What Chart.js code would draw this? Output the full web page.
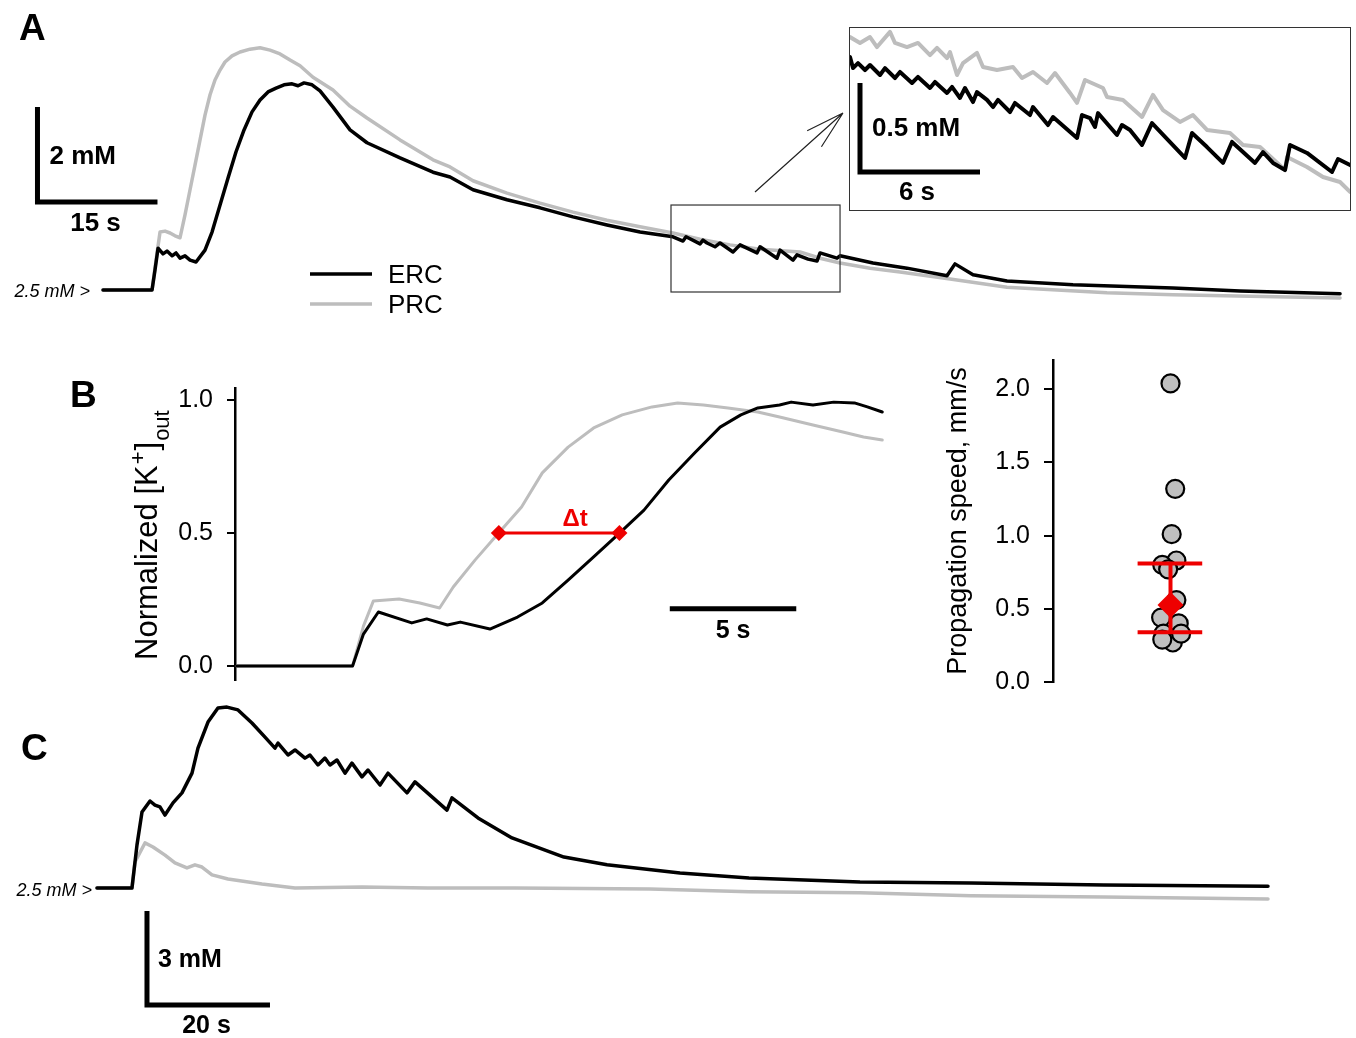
<!DOCTYPE html>
<html>
<head>
<meta charset="utf-8">
<script src="https://cdn.jsdelivr.net/npm/chart.js@4.4.1/dist/chart.umd.min.js"></script>
<style>
html, body { margin: 0; padding: 0; background: #fff; }
#fig { position: relative; width: 1356px; height: 1038px; overflow: hidden; background: #fff; }
.panel { position: absolute; }
#insetBox { border: 1px solid #333; background: #fff; }
</style>
</head>
<body>
<div id="fig">
  <div class="panel" style="left:0;top:0;width:1356px;height:330px"><canvas id="chartA"></canvas></div>
  <div class="panel" id="insetBox" style="left:849px;top:27px;width:500px;height:182px"><canvas id="chartInset"></canvas></div>
  <div class="panel" style="left:0;top:360px;width:910px;height:340px"><canvas id="chartB"></canvas></div>
  <div class="panel" style="left:938px;top:330px;width:363px;height:370px"><canvas id="chartSpeed"></canvas></div>
  <div class="panel" style="left:0;top:690px;width:1356px;height:348px"><canvas id="chartC"></canvas></div>
</div>
<script>
// ---- data: [time s, value] ----
// panel A, [K+]out in mM
const aERC = [[0,2.5],[2.13,2.5],[4.63,2.5],[6.13,2.5],[6.5,2.92],[6.88,3.38],[7.5,3.26],[8,3.32],[8.63,3.22],[9.13,3.28],[9.63,3.17],[10.25,3.22],[10.88,3.13],[11.63,3.09],[12.75,3.34],[13.63,3.72],[14.63,4.29],[15.63,4.86],[16.63,5.41],[17.63,5.87],[18.63,6.25],[19.63,6.5],[20.63,6.67],[21.63,6.75],[22.63,6.82],[23.63,6.84],[24.38,6.8],[25.13,6.86],[26.13,6.82],[27.13,6.69],[28.75,6.35],[30.88,5.87],[33,5.6],[37.13,5.28],[41.25,4.98],[43.38,4.88],[46.25,4.61],[50.5,4.4],[54.63,4.23],[58.75,4.04],[63,3.87],[67.13,3.72],[71.25,3.62],[72.5,3.53],[72.88,3.62],[74.63,3.47],[75,3.55],[75.5,3.49],[76.5,3.41],[77.13,3.49],[78.75,3.3],[79.63,3.45],[81.75,3.28],[82.13,3.41],[84.25,3.17],[84.63,3.34],[86.25,3.13],[86.75,3.24],[88.13,3.15],[89.25,3.11],[89.63,3.28],[91.75,3.17],[92.13,3.22],[96.25,3.07],[100.5,2.96],[105.5,2.8],[106.5,3.05],[108.75,2.82],[113,2.69],[121.25,2.61],[133.75,2.54],[142.13,2.48],[154.63,2.42]];
const aPRC = [[0,2.5],[6.13,2.5],[6.63,3.13],[7.13,3.72],[7.75,3.74],[8.38,3.7],[9,3.64],[9.63,3.6],[10.25,4.08],[10.88,4.61],[11.5,5.13],[12.13,5.66],[12.75,6.18],[13.38,6.61],[14,6.92],[14.63,7.13],[15.25,7.3],[16.13,7.43],[17.13,7.51],[18.38,7.57],[19.63,7.6],[20.88,7.55],[22.13,7.47],[23.38,7.34],[24.63,7.22],[26.25,6.98],[28.75,6.71],[30.88,6.37],[33,6.12],[37.13,5.66],[41.25,5.24],[43.38,5.09],[46.25,4.8],[50.5,4.54],[54.63,4.33],[58.75,4.14],[63,3.97],[67.13,3.83],[71.25,3.7],[74.63,3.57],[78.38,3.45],[82.13,3.36],[87.13,3.3],[89.63,3.17],[92.13,3.07],[95.88,2.96],[99.63,2.88],[105.88,2.73],[113,2.56],[125.5,2.44],[133.75,2.4],[143.38,2.37],[154.63,2.33]];

// inset of panel A (zoomed window)
const insetERC = [[0,4.237],[0.15,4.175],[0.4,4.203],[0.75,4.164],[1,4.192],[1.5,4.136],[1.75,4.175],[2.25,4.119],[2.5,4.153],[3.1,4.091],[3.4,4.125],[4,4.063],[4.25,4.097],[4.85,4.035],[5.1,4.069],[5.5,4.007],[5.75,4.063],[6.15,3.984],[6.35,4.04],[6.85,3.996],[7.15,3.956],[7.4,3.996],[8,3.928],[8.25,3.979],[9,3.911],[9.15,3.956],[9.9,3.855],[10.15,3.9],[11.35,3.782],[11.6,3.911],[12,3.894],[12.25,3.844],[12.4,3.922],[13.35,3.799],[13.6,3.855],[14,3.827],[14.6,3.743],[15.1,3.866],[16.75,3.67],[17.1,3.81],[17.85,3.731],[18.65,3.642],[19.1,3.76],[19.65,3.703],[20.25,3.642],[20.65,3.703],[21.15,3.642],[21.75,3.602],[22,3.743],[22.85,3.698],[24.1,3.591],[24.4,3.664],[25,3.63]];
const insetPRC = [[0,4.349],[0.5,4.316],[1,4.349],[1.35,4.293],[2,4.378],[2.25,4.316],[2.85,4.293],[3.4,4.316],[4,4.248],[4.35,4.288],[4.85,4.231],[5,4.265],[5.35,4.136],[5.65,4.203],[6.35,4.26],[6.65,4.181],[7.35,4.164],[8.15,4.181],[8.6,4.119],[9.15,4.153],[9.85,4.091],[10.25,4.147],[11,4.035],[11.35,3.979],[11.75,4.108],[12.65,4.063],[12.85,4.012],[13.65,3.996],[14.6,3.9],[15.15,4.024],[15.65,3.939],[16.5,3.872],[17.15,3.911],[17.85,3.827],[19,3.81],[19.65,3.743],[20.5,3.731],[21.75,3.602],[21.85,3.675],[22.85,3.619],[23.65,3.563],[24.5,3.535],[25,3.479]];

// panel B, normalized [K+]out
const bERC = [[0,0],[2.46,0],[4.57,0],[5,0.12],[5.59,0.203],[6.91,0.162],[7.5,0.177],[8.32,0.154],[8.83,0.165],[10,0.139],[11.09,0.184],[12.07,0.237],[13.09,0.323],[14.1,0.41],[15.08,0.496],[16.09,0.586],[17.07,0.699],[18.09,0.801],[19.1,0.898],[19.92,0.944],[20.59,0.97],[21.45,0.981],[21.91,0.992],[22.77,0.981],[23.59,0.992],[24.41,0.989],[24.92,0.974],[25.51,0.955]];
const bPRC = [[0,0],[2.46,0],[4.57,0],[5,0.15],[5.39,0.244],[6.41,0.252],[7.23,0.237],[8.01,0.218],[8.55,0.297],[9.41,0.398],[10.31,0.496],[11.25,0.598],[12.07,0.726],[13.09,0.823],[14.1,0.895],[15.23,0.944],[16.41,0.974],[17.42,0.989],[18.44,0.981],[19.41,0.97],[20.59,0.955],[21.45,0.936],[22.77,0.906],[23.95,0.88],[24.77,0.861],[25.51,0.85]];
const deltaT = [[10.35,0.5],[15.12,0.5]];
const bTicks = [0, 0.5, 1];

// panel B right, propagation speed (mm/s); x = jitter around 1
const speedX = [1.0, 1.04, 1.01, 1.05, 0.93, 0.98, 1.05, 0.92, 1.07, 0.94, 1.02, 0.93, 1.09];
const speedY = [2.04, 1.32, 1.01, 0.83, 0.80, 0.77, 0.56, 0.44, 0.40, 0.33, 0.27, 0.29, 0.33];
const speedMean = 0.526;
const speedSD = [0.34, 0.81];
const speedTicks = [0, 0.5, 1, 1.5, 2];

// panel C, [K+]out in mM
const cERC = [[0,2.5],[5.69,2.5],[6.5,3.87],[7.32,4.93],[8.62,5.28],[9.43,5.15],[10.24,5.09],[11.06,4.83],[12.36,5.22],[13.82,5.54],[15.45,6.17],[16.42,6.97],[18.05,7.8],[19.67,8.25],[21.14,8.28],[22.93,8.19],[25.2,7.77],[27.32,7.32],[28.94,6.97],[29.43,7.13],[31.06,6.75],[32.2,6.91],[33.82,6.65],[34.63,6.75],[35.93,6.43],[37.07,6.65],[37.89,6.43],[39.02,6.59],[40.33,6.17],[41.46,6.49],[43.09,6.05],[44.07,6.27],[46.02,5.79],[47.32,6.17],[50.41,5.54],[51.71,5.89],[56.91,4.99],[57.72,5.38],[61.95,4.74],[67.48,4.1],[75.93,3.49],[82.93,3.24],[94.8,2.98],[106.02,2.82],[124.07,2.69],[142.11,2.66],[163.74,2.6],[190.41,2.56]];
const cPRC = [[0,2.5],[5.69,2.5],[6.18,3.33],[7.8,3.94],[9.11,3.81],[11.06,3.55],[12.68,3.3],[14.63,3.14],[15.93,3.24],[17.07,3.17],[18.7,2.92],[21.3,2.79],[26.83,2.63],[32.2,2.5],[43.09,2.53],[53.82,2.5],[67.97,2.5],[89.92,2.47],[106.02,2.38],[124.07,2.35],[142.11,2.25],[163.74,2.21],[190.41,2.15]];

// scale bars in data units (corner at t, v)
const barA = { t: -8.19, v: 4.35, dt: 15, dv: 2 };
const barInset = { t: 0.5, v: 3.591, dt: 6, dv: 0.5 };
const barB = { t: 17.11, v: 0.215, dt: 5 };
const barC = { t: 8.13, v: -1.238, dt: 20, dv: 3 };
const zoomBox = { t0: 71, t1: 92.13, v0: 2.458, v1: 4.289 };
const zoomArrow = { t0: 81.5, v0: 4.563, t1: 92.5, v1: 6.226 };

const FONT = 'Arial, "Liberation Sans", sans-serif';
const BLACK = '#000000';
const GRAY = '#bdbdbd';
const RED = '#ee0000';

Chart.defaults.font.family = FONT;
Chart.defaults.color = '#000';

const pts = arr => arr.map(p => ({ x: p[0], y: p[1] }));

function traceOpts(xmin, xmax, ymin, ymax) {
    return {
        responsive: true,
        maintainAspectRatio: false,
        animation: false,
        devicePixelRatio: 1,
        events: [],
        layout: { padding: { top: 0, bottom: 0, left: 0, right: 0 } },
        plugins: { legend: { display: false }, tooltip: { enabled: false } },
        elements: {
            point: { radius: 0 },
            line: { tension: 0, borderJoinStyle: 'round', borderCapStyle: 'round' }
        },
        scales: {
            x: { type: 'linear', min: xmin, max: xmax, display: false },
            y: { type: 'linear', min: ymin, max: ymax, display: false }
        }
    };
}

// nudge layout padding until the plot area sits where the y range was computed for
function pinArea(chart, opts, top, bottom) {
    for (let k = 0; k < 4; k++) {
        const a = chart.chartArea;
        const dTop = top - a.top, dBottom = a.bottom - bottom;
        if (Math.abs(dTop) < 0.3 && Math.abs(dBottom) < 0.3) break;
        opts.layout.padding.top += dTop;
        opts.layout.padding.bottom += dBottom;
        chart.update();
    }
}

function P(chart, t, v) {
    return [chart.scales.x.getPixelForValue(t), chart.scales.y.getPixelForValue(v)];
}

function txt(ctx, s, x, y, font, align, color) {
    ctx.font = font;
    ctx.textAlign = align || 'left';
    ctx.textBaseline = 'alphabetic';
    ctx.fillStyle = color || '#000';
    ctx.fillText(s, x, y);
}

function scaleBar(chart, bar) {
    const ctx = chart.ctx;
    const [x0, y0] = P(chart, bar.t, bar.v);
    const x1 = chart.scales.x.getPixelForValue(bar.t + (bar.dt || 0));
    const yTop = chart.scales.y.getPixelForValue(bar.v + (bar.dv || 0));
    ctx.save();
    ctx.strokeStyle = '#000';
    ctx.lineWidth = 5;
    ctx.lineJoin = 'miter';
    ctx.lineCap = 'butt';
    ctx.beginPath();
    if (bar.dv) { ctx.moveTo(x0, yTop); ctx.lineTo(x0, y0); } else { ctx.moveTo(x0, y0); }
    ctx.lineTo(x1, y0);
    ctx.stroke();
    ctx.restore();
    return { x0, y0, x1, yTop };
}

// ---- panel A ----
new Chart(document.getElementById('chartA'), {
    type: 'line',
    data: {
        datasets: [
            { label: 'ERC', data: pts(aERC), borderColor: BLACK, borderWidth: 3.5 },
            { label: 'PRC', data: pts(aPRC), borderColor: GRAY, borderWidth: 3.5 }
        ]
    },
    options: traceOpts(-12.875, 156.625, 1.658, 8.605),
    plugins: [{
        id: 'decorA',
        afterDatasetsDraw(chart) {
            const ctx = chart.ctx;
            ctx.save();
            txt(ctx, 'A', 19, 40, 'bold 37px ' + FONT);
            const b = scaleBar(chart, barA);
            txt(ctx, '2 mM', b.x0 + 12, (b.y0 + b.yTop) / 2 + 9, 'bold 26px ' + FONT);
            txt(ctx, '15 s', (b.x0 + b.x1) / 2 - 2, b.y0 + 29, 'bold 26px ' + FONT, 'center');
            const y25 = chart.scales.y.getPixelForValue(2.5);
            txt(ctx, '2.5 mM >', 90, y25 + 7, 'italic 18px ' + FONT, 'right');

            // zoom window
            const [bx0, by0] = P(chart, zoomBox.t0, zoomBox.v1);
            const [bx1, by1] = P(chart, zoomBox.t1, zoomBox.v0);
            ctx.strokeStyle = '#333';
            ctx.lineWidth = 1.2;
            ctx.strokeRect(bx0, by0, bx1 - bx0, by1 - by0);

            // arrow to the inset
            const [ax0, ay0] = P(chart, zoomArrow.t0, zoomArrow.v0);
            const [ax1, ay1] = P(chart, zoomArrow.t1, zoomArrow.v1);
            ctx.strokeStyle = '#222';
            ctx.beginPath();
            ctx.moveTo(ax0, ay0);
            ctx.lineTo(ax1, ay1);
            const back = Math.atan2(ay1 - ay0, ax1 - ax0) + Math.PI;
            [-0.27, 0.27].forEach(s => {
                ctx.moveTo(ax1, ay1);
                ctx.lineTo(ax1 + 40 * Math.cos(back + s), ay1 + 40 * Math.sin(back + s));
            });
            ctx.stroke();

            // legend
            chart.data.datasets.forEach((ds, i) => {
                const y = 274 + i * 30;
                ctx.strokeStyle = ds.borderColor;
                ctx.lineWidth = 3.5;
                ctx.beginPath();
                ctx.moveTo(310, y);
                ctx.lineTo(372, y);
                ctx.stroke();
                txt(ctx, ds.label, 388, y + 9, '26px ' + FONT);
            });
            ctx.restore();
        }
    }]
});

// ---- inset ----
new Chart(document.getElementById('chartInset'), {
    type: 'line',
    data: {
        datasets: [
            { label: 'ERC', data: pts(insetERC), borderColor: BLACK, borderWidth: 4 },
            { label: 'PRC', data: pts(insetPRC), borderColor: GRAY, borderWidth: 4 }
        ]
    },
    options: traceOpts(0, 25, 3.3775, 4.40),
    plugins: [{
        id: 'decorInset',
        afterDatasetsDraw(chart) {
            const ctx = chart.ctx;
            ctx.save();
            const b = scaleBar(chart, barInset);
            txt(ctx, '0.5 mM', b.x0 + 12, (b.y0 + b.yTop) / 2 + 9, 'bold 26px ' + FONT);
            txt(ctx, '6 s', (b.x0 + b.x1) / 2 - 3, b.y0 + 28, 'bold 26px ' + FONT, 'center');
            ctx.restore();
        }
    }]
});

// ---- panel B (normalized traces) ----
// plot area wanted at page y 388..680 (canvas top is 360)
const optsB = traceOpts(-0.078, 26.29, -0.0526, 1.0451);
optsB.layout.padding.top = 28;
optsB.layout.padding.bottom = 20;
optsB.scales.y = {
    type: 'linear', min: -0.0526, max: 1.0451, position: 'left', display: true,
    afterBuildTicks: s => { s.ticks = bTicks.map(v => ({ value: v })); },
    afterFit: s => { s.width = 235; s.paddingTop = 0; s.paddingBottom = 0; },
    grid: { drawOnChartArea: false, drawTicks: true, tickLength: 8, color: '#000', lineWidth: 2 },
    border: { display: true, color: '#000', width: 2.5 },
    ticks: { color: '#000', font: { size: 25 }, padding: 14, callback: v => Number(v).toFixed(1) }
};
const chartB = new Chart(document.getElementById('chartB'), {
    type: 'line',
    data: {
        datasets: [
            { label: 'Δt', data: pts(deltaT), borderColor: RED, borderWidth: 3, pointRadius: 8,
              pointStyle: 'rectRot', pointBackgroundColor: RED, pointBorderColor: RED, pointBorderWidth: 0 },
            { label: 'ERC', data: pts(bERC), borderColor: BLACK, borderWidth: 3 },
            { label: 'PRC', data: pts(bPRC), borderColor: GRAY, borderWidth: 3 }
        ]
    },
    options: optsB,
    plugins: [{
        id: 'decorB',
        afterDatasetsDraw(chart) {
            const ctx = chart.ctx;
            ctx.save();
            txt(ctx, 'B', 70, 47, 'bold 37px ' + FONT);

            // y title with super/subscript
            ctx.save();
            ctx.translate(157, 300);
            ctx.rotate(-Math.PI / 2);
            let x = 0;
            txt(ctx, 'Normalized [K', x, 0, '31px ' + FONT);
            x += ctx.measureText('Normalized [K').width;
            txt(ctx, '+', x + 1, -12, '22px ' + FONT);
            x += ctx.measureText('+').width + 2;
            txt(ctx, ']', x, 0, '31px ' + FONT);
            x += ctx.measureText(']').width;
            txt(ctx, 'out', x + 1, 12, '22px ' + FONT);
            ctx.restore();

            const b = scaleBar(chart, barB);
            txt(ctx, '5 s', (b.x0 + b.x1) / 2, b.y0 + 29, 'bold 25px ' + FONT, 'center');

            const [dx0, dy] = P(chart, deltaT[0][0], deltaT[0][1]);
            const [dx1] = P(chart, deltaT[1][0], deltaT[1][1]);
            txt(ctx, 'Δt', (dx0 + dx1) / 2 + 16, dy - 7, 'bold 24px ' + FONT, 'center', RED);
            ctx.restore();
        }
    }]
});
pinArea(chartB, optsB, 28, 320);

// ---- panel B right (propagation speed) ----
// plot area wanted at page y 360..682 (canvas top is 330)
const optsSpeed = {
    responsive: true,
    maintainAspectRatio: false,
    animation: false,
    devicePixelRatio: 1,
    events: [],
    layout: { padding: { top: 30, bottom: 18, left: 0, right: 0 } },
    plugins: { legend: { display: false }, tooltip: { enabled: false } },
    scales: {
        x: { type: 'linear', min: 0, max: 2, display: false },
        y: {
            type: 'linear', min: 0, max: 2.2, position: 'left',
            afterBuildTicks: s => { s.ticks = speedTicks.map(v => ({ value: v })); },
            afterFit: s => { s.width = 115; s.paddingTop = 0; s.paddingBottom = 0; },
            grid: { drawOnChartArea: false, drawTicks: true, tickLength: 9, color: '#000', lineWidth: 2 },
            border: { display: true, color: '#000', width: 2.5 },
            ticks: { color: '#000', font: { size: 25 }, padding: 14, callback: v => Number(v).toFixed(1) },
            title: { display: true, text: 'Propagation speed, mm/s', color: '#000', font: { size: 27 }, padding: { top: 4 } }
        }
    }
};
const chartSpeed = new Chart(document.getElementById('chartSpeed'), {
    type: 'scatter',
    data: {
        datasets: [
            { label: 'mean', data: [{ x: 1, y: speedMean }], pointStyle: 'rectRot', pointRadius: 13,
              backgroundColor: RED, borderColor: RED, borderWidth: 0 },
            { label: 'sd', data: [{ x: 1, y: speedSD[0] }, { x: 1, y: speedSD[1] }], showLine: true,
              borderColor: RED, borderWidth: 4, pointRadius: 0 },
            { label: 'sdHigh', data: [{ x: 0.72, y: speedSD[1] }, { x: 1.27, y: speedSD[1] }], showLine: true,
              borderColor: RED, borderWidth: 4, pointRadius: 0 },
            { label: 'sdLow', data: [{ x: 0.72, y: speedSD[0] }, { x: 1.27, y: speedSD[0] }], showLine: true,
              borderColor: RED, borderWidth: 4, pointRadius: 0 },
            { label: 'speed', data: speedX.map((x, i) => ({ x: x, y: speedY[i] })), pointRadius: 9,
              backgroundColor: '#bfbfbf', borderColor: '#000', borderWidth: 2.2 }
        ]
    },
    options: optsSpeed
});
pinArea(chartSpeed, optsSpeed, 30, 352);

// ---- panel C ----
new Chart(document.getElementById('chartC'), {
    type: 'line',
    data: {
        datasets: [
            { label: 'ERC', data: pts(cERC), borderColor: BLACK, borderWidth: 3.5 },
            { label: 'PRC', data: pts(cPRC), borderColor: GRAY, borderWidth: 3.5 }
        ]
    },
    options: traceOpts(-15.77, 204.72, -2.292, 8.826),
    plugins: [{
        id: 'decorC',
        afterDatasetsDraw(chart) {
            const ctx = chart.ctx;
            ctx.save();
            txt(ctx, 'C', 21, 70, 'bold 37px ' + FONT);
            const y25 = chart.scales.y.getPixelForValue(2.5);
            txt(ctx, '2.5 mM >', 92, y25 + 8, 'italic 18px ' + FONT, 'right');
            const b = scaleBar(chart, barC);
            txt(ctx, '3 mM', b.x0 + 11, (b.y0 + b.yTop) / 2 + 9, 'bold 25px ' + FONT);
            txt(ctx, '20 s', (b.x0 + b.x1) / 2 - 2, b.y0 + 28, 'bold 25px ' + FONT, 'center');
            ctx.restore();
        }
    }]
});
</script>
</body>
</html>
